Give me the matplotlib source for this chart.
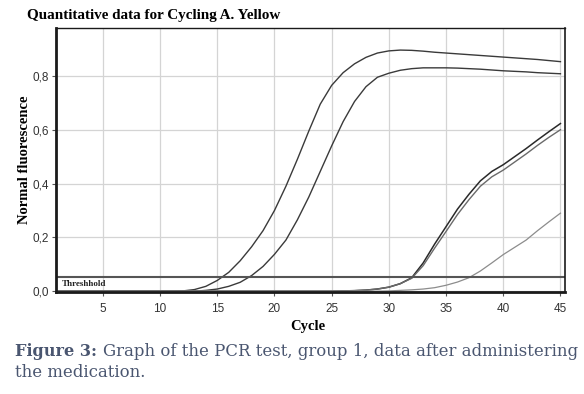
import numpy as np
import matplotlib
matplotlib.use('Agg')
import matplotlib.pyplot as plt

# cycles 1..45
cycles = np.arange(1, 46)

# flat part of every curve before it starts to rise
curve_a = [0.0] * 11 + [0.001, 0.006, 0.018, 0.04, 0.07, 0.113, 0.165, 0.225, 0.30,
                        0.39, 0.49, 0.595, 0.695, 0.765, 0.812, 0.845, 0.869, 0.885, 0.893,
                        0.896, 0.895, 0.892, 0.888, 0.885, 0.882, 0.879, 0.876, 0.873, 0.870,
                        0.867, 0.864, 0.861, 0.857, 0.853]
curve_b = [0.0] * 13 + [0.003, 0.008, 0.018, 0.033, 0.058, 0.092, 0.137, 0.19, 0.265,
                        0.35, 0.445, 0.54, 0.63, 0.705, 0.76, 0.795, 0.81, 0.821, 0.827,
                        0.83, 0.83, 0.83, 0.829, 0.827, 0.825, 0.822, 0.819, 0.817, 0.815,
                        0.812, 0.81, 0.808]
curve_c = [0.0] * 25 + [0.001, 0.002, 0.004, 0.008, 0.015, 0.028, 0.05, 0.105, 0.175,
                        0.24, 0.305, 0.36, 0.41, 0.445, 0.47, 0.50, 0.53, 0.562, 0.593, 0.623]
curve_d = [0.0] * 25 + [0.001, 0.002, 0.004, 0.008, 0.015, 0.028, 0.048, 0.095, 0.16,
                        0.222, 0.285, 0.34, 0.39, 0.425, 0.45, 0.48, 0.51, 0.542, 0.572, 0.60]
curve_e = [0.0] * 29 + [0.001, 0.003, 0.005, 0.008, 0.013, 0.022, 0.034, 0.05, 0.075,
                        0.105, 0.136, 0.163, 0.19, 0.225, 0.258, 0.29]
threshold = 0.052

x_ticks = [5, 10, 15, 20, 25, 30, 35, 40, 45]
y_ticks = [0.0, 0.2, 0.4, 0.6, 0.8]
y_tick_labels = ['0,0', '0,2', '0,4', '0,6', '0,8']

fig = plt.figure(figsize=(5.84, 3.94), dpi=100)
fig.patch.set_facecolor('white')
ax = fig.add_axes([0.0959, 0.2589, 0.8716, 0.67])

# grid
ax.set_xticks(x_ticks)
ax.set_yticks(y_ticks)
ax.set_yticklabels(y_tick_labels)
ax.grid(True, color='#d4d4d4', linewidth=0.9)
ax.set_axisbelow(True)

# curves
ax.plot(cycles, curve_a, color='#3a3a3a', lw=1.0)
ax.plot(cycles, curve_b, color='#3a3a3a', lw=1.0)
ax.plot(cycles, curve_c, color='#2a2a2a', lw=1.1)
ax.plot(cycles, curve_d, color='#6a6a6a', lw=1.0)
ax.plot(cycles, curve_e, color='#8c8c8c', lw=0.9)

# threshold line
ax.axhline(threshold, color='#555555', lw=1.5)
ax.text(1.4, threshold - 0.012, 'Threshhold', fontsize=6.5, fontweight='bold',
        family='Liberation Serif', va='top', ha='left', color='#222222')

ax.set_xlim(0.9, 45.4)
ax.set_ylim(-0.003, 0.978)

# spines: heavy left/bottom, thin top/right
ax.spines['left'].set_linewidth(2.0)
ax.spines['bottom'].set_linewidth(2.0)
ax.spines['top'].set_linewidth(1.0)
ax.spines['right'].set_linewidth(1.2)
for s in ax.spines.values():
    s.set_color('#1a1a1a')

ax.tick_params(axis='both', length=3, width=0.8, color='#555555',
               labelsize=8.5, labelcolor='#333333')
ax.tick_params(axis='x', pad=5)
ax.tick_params(axis='y', pad=2)
for lab in ax.get_xticklabels() + ax.get_yticklabels():
    lab.set_family('Liberation Sans')

ax.set_xlabel('Cycle', fontsize=10.5, fontweight='bold', family='Liberation Serif')
ax.set_ylabel('Normal fluorescence', fontsize=10.5, fontweight='bold',
              family='Liberation Serif')
ax.xaxis.set_label_coords(0.495, -0.129)
ax.yaxis.set_label_coords(-0.061, 0.5)
ax.xaxis.label.set_va('center')
ax.yaxis.label.set_va('center')

fig.text(27 / 584, 1 - 16 / 394, 'Quantitative data for Cycling A. Yellow', fontsize=10.9,
         fontweight='bold', family='Liberation Serif', va='center', ha='left')

# caption
cap_color = '#4a5670'
fig.text(15 / 584, 1 - 356 / 394, 'Figure 3:', fontsize=11.6, fontweight='bold',
         family='DejaVu Serif', color=cap_color, va='baseline')
fig.text(103 / 584, 1 - 356 / 394, 'Graph of the PCR test, group 1, data after administering',
         fontsize=11.85, family='DejaVu Serif', color=cap_color, va='baseline')
fig.text(15 / 584, 1 - 377 / 394, 'the medication.', fontsize=11.85,
         family='DejaVu Serif', color=cap_color, va='baseline')

plt.savefig('out.png', dpi=100, facecolor=fig.get_facecolor())
plt.close()
